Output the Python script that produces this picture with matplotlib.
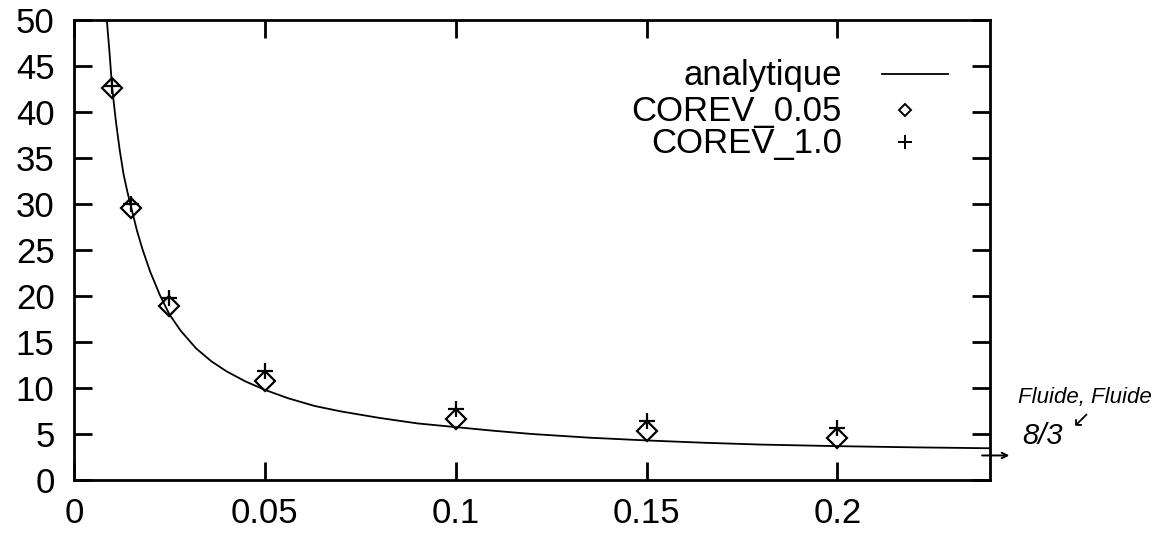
import matplotlib.pyplot as plt

plt.rcParams['font.family'] = ['Liberation Sans', 'DejaVu Sans']

# analytic curve, points
x_ana = [0.0086, 0.0093, 0.01, 0.011, 0.012, 0.013, 0.014, 0.015, 0.0165,
         0.018, 0.02, 0.0225, 0.025, 0.028, 0.032, 0.036, 0.04, 0.045, 0.05,
         0.056, 0.063, 0.07, 0.08, 0.09, 0.1, 0.11, 0.12, 0.135, 0.15, 0.165,
         0.18, 0.2, 0.22, 0.24]
y_ana = [50.0, 46.5, 42.6, 38.9, 35.8, 33.2, 31.3, 29.6, 27.1, 25.0, 22.6,
         20.1, 18.0, 16.2, 14.3, 12.9, 11.8, 10.7, 9.8, 8.9, 8.05, 7.45,
         6.75, 6.15, 5.75, 5.35, 5.0, 4.6, 4.3, 4.05, 3.85, 3.68, 3.55, 3.45]

# COREV runs
x_pts = [0.01, 0.015, 0.025, 0.05, 0.1, 0.15, 0.2]
y_corev_005 = [42.6, 29.6, 18.9, 10.8, 6.6, 5.3, 4.6]
y_corev_10 = [42.8, 30.0, 19.8, 11.9, 7.7, 6.4, 5.6]

labels = ['analytique', 'COREV_0.05', 'COREV_1.0']

x_ticks = [0, 0.05, 0.1, 0.15, 0.2]
x_ticklabels = ['0', '0.05', '0.1', '0.15', '0.2']
y_ticks = list(range(0, 51, 5))

W, H = 1175, 534
L, R, T, B = 74, 990, 20, 480

fig = plt.figure(figsize=(W / 100, H / 100), dpi=100)
ax = fig.add_axes([L / W, 1 - B / H, (R - L) / W, (B - T) / H])

ax.plot(x_ana, y_ana, color='black', lw=1.3)
ax.plot(x_pts, y_corev_005, ls='none', marker='D', ms=10, mfc='none',
        mec='black', mew=1.6)
ax.plot(x_pts, y_corev_10, ls='none', marker='+', ms=12, mec='black',
        mew=1.6)

ax.set_xlim(0, 0.24)
ax.set_ylim(0, 50)
ax.set_xticks(x_ticks)
ax.set_xticklabels(x_ticklabels)
ax.set_yticks(y_ticks)
ax.tick_params(direction='in', top=True, right=True, length=13, width=2,
               labelsize=25)
ax.tick_params(axis='y', pad=14)
ax.tick_params(axis='x', pad=12)
for s in ax.spines.values():
    s.set_linewidth(2)


# gnuplot style key: text right-aligned, sample on the right
def ax_x(px):
    return (px - L) / (R - L)


def ax_y(py):
    return (B - py) / (B - T)


rows = [74, 110, 142]
for lab, yc in zip(labels, rows):
    ax.text(ax_x(842), ax_y(yc + 11), lab, transform=ax.transAxes,
            ha='right', va='baseline', fontsize=25)
ax.plot([ax_x(882), ax_x(948)], [ax_y(rows[0])] * 2, color='black', lw=1.3,
        transform=ax.transAxes)
ax.plot([ax_x(905)], [ax_y(rows[1])], marker='D', ms=6.5, mfc='none',
        mec='black', mew=1.4, transform=ax.transAxes)
ax.plot([ax_x(905)], [ax_y(rows[2])], marker='+', ms=10, mec='black',
        mew=1.4, transform=ax.transAxes)

# handwritten note on the right (8/3 limit)
ax.annotate('', xy=(0.2458, 8 / 3), xytext=(0.2372, 8 / 3),
            xycoords='data', annotation_clip=False,
            arrowprops=dict(arrowstyle='->', color='black', lw=1.4))
fig.text(1018 / W, 1 - 397 / H, 'Fluide, Fluide', fontsize=16,
         style='italic', ha='left', va='center')
fig.text(1022 / W, 1 - 436 / H, '8/3', fontsize=21, style='italic',
         ha='left', va='center')
fig.text(1072 / W, 1 - 420 / H, '\u2199', fontsize=16, ha='left',
         va='center', family=['DejaVu Sans'])

fig.savefig('out.png', dpi=100)
